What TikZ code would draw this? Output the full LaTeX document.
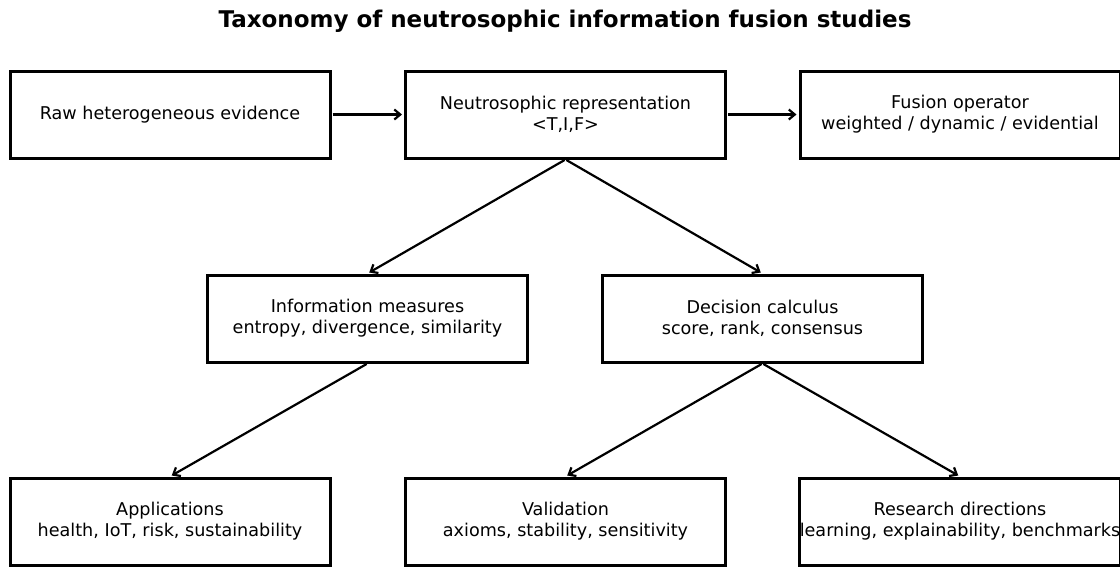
\documentclass[tikz,border=0pt]{standalone}
\usepackage{fontspec}
\setmainfont{DejaVu Sans}
\usetikzlibrary{arrows.meta}
\begin{document}
\begin{tikzpicture}[x=1pt,y=-1pt,
  box/.style={draw=black, line width=3pt, minimum width=320pt, minimum height=87pt,
    inner sep=0pt, align=center, font=\fontsize{17.6}{21}\selectfont},
  conn/.style={line width=2.2pt, -{Straight Barb[length=6pt,width=10pt,line width=2.2pt]}, shorten <=1pt, shorten >=2pt}]
\useasboundingbox (0,0) rectangle (1120,566);
\clip (0,0) rectangle (1120,566);
\node[font=\fontsize{23}{27}\selectfont\bfseries] (title) at (565,21) {Taxonomy of neutrosophic information fusion studies};
\node[box] (raw) at (170,114.5) {Raw heterogeneous evidence};
\node[box] (rep) at (565.5,114.5) {Neutrosophic representation\\<T,I,F>};
\node[box] (fus) at (960,114.5) {Fusion operator\\weighted / dynamic / evidential};
\node[box] (inf) at (367.5,318.5) {Information measures\\entropy, divergence, similarity};
\node[box] (dec) at (762.5,318.5) {Decision calculus\\score, rank, consensus};
\node[box] (app) at (170,521.5) {Applications\\health, IoT, risk, sustainability};
\node[box] (val) at (565.5,521.5) {Validation\\axioms, stability, sensitivity};
\node[box] (res) at (960,521.5) {Research directions\\learning, explainability, benchmarks};
\draw[conn] (raw) -- (rep);
\draw[conn] (rep) -- (fus);
\draw[conn] (rep.south) -- (inf.north);
\draw[conn] (rep.south) -- (dec.north);
\draw[conn] (inf.south) -- (app.north);
\draw[conn] (dec.south) -- (val.north);
\draw[conn] (dec.south) -- (res.north);
\end{tikzpicture}
\end{document}
